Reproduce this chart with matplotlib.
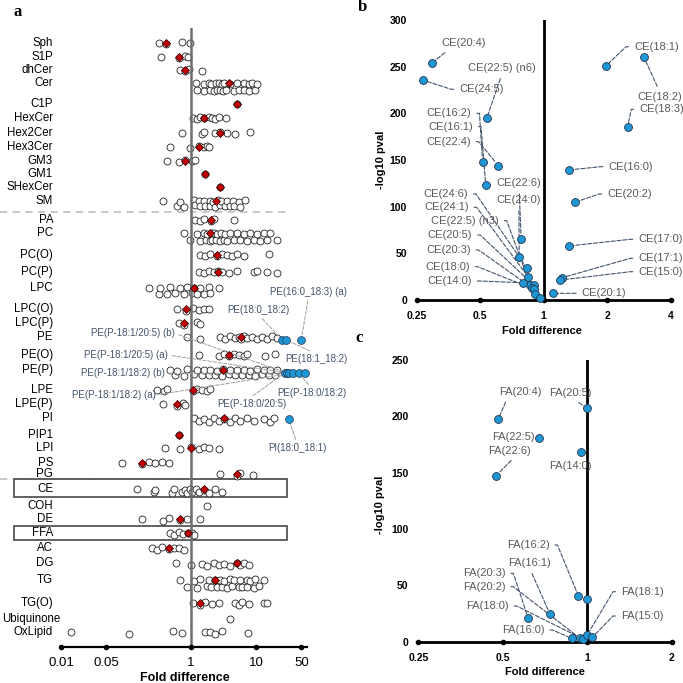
import matplotlib
matplotlib.use('Agg')
import matplotlib.pyplot as plt
from matplotlib.transforms import blended_transform_factory
from matplotlib.patches import Rectangle
from matplotlib.ticker import NullLocator

plt.rcParams['font.family'] = ['Liberation Sans', 'DejaVu Sans']

# Data ----------------------------------------------------------------------------------------------------------------
classes = ['Sph', 'S1P', 'dhCer', 'Cer', 'C1P', 'HexCer', 'Hex2Cer', 'Hex3Cer', 'GM3', 'GM1', 'SHexCer', 'SM',
           'PA', 'PC', 'PC(O)', 'PC(P)', 'LPC', 'LPC(O)', 'LPC(P)', 'PE', 'PE(O)', 'PE(P)', 'LPE', 'LPE(P)', 'PI',
           'PIP1', 'LPI', 'PS', 'PG', 'CE', 'COH', 'DE', 'FFA', 'AC', 'DG', 'TG', 'TG(O)', 'Ubiquinone', 'OxLipid']

# fold difference of every lipid species, per class (white circles)
sph = [0.317, 0.41, 0.727, 0.975]
s1p = [0.346, 0.66, 0.797, 0.886]
dhcer = [0.685, 0.82, 0.918, 1.48]
cer = [1.21, 1.24, 1.56, 1.56, 1.87, 1.93, 2.0, 2.23, 2.45, 2.51, 2.7, 2.82, 3.0, 3.1, 3.25, 3.5, 4.03, 4.52,
       5.09, 5.39, 6.45, 6.45, 7.7, 7.7, 8.69, 9.74, 10.3]
c1p = [5.1]
hexcer = [1.07, 1.24, 1.39, 1.6, 1.87, 2.1, 2.37, 2.66, 3.49]
hex2cer = [0.727, 1.48, 1.6, 2.37, 2.82, 3.58, 4.8, 8.17]
hex3cer = [0.481, 0.976, 1.34, 1.56, 1.76, 1.91]
gm3 = [0.427, 0.66, 0.797, 1.04, 1.16]
gm1 = [1.66]
shexcer = [2.82]
sm = [0.371, 0.61, 0.685, 0.77, 1.1, 1.16, 1.31, 1.39, 1.6, 1.66, 1.93, 1.98, 2.2, 2.37, 2.6, 2.82, 2.9, 3.37,
      3.58, 4.02, 4.4, 4.6, 5.39, 5.73, 6.84]
pa = [1.16, 1.36, 1.6, 2.03, 2.23, 4.52]
pc = [0.77, 0.976, 1.24, 1.39, 1.56, 1.7, 1.76, 1.98, 2.0, 2.1, 2.23, 2.4, 2.51, 2.82, 2.9, 3.17, 3.3, 3.58, 4.02,
      4.52, 5.09, 5.73, 6.45, 7.25, 8.17, 9.2, 10.3, 11.6, 13.1, 14.7, 16.6, 21.0]
pc_o = [1.39, 1.66, 1.98, 2.51, 3.0, 3.58, 4.27, 5.09, 6.45, 15.6]
pc_p = [1.31, 1.56, 1.87, 2.23, 2.58, 3.0, 3.79, 5.09, 9.2, 10.3, 14.7, 21.0]
lpc = [0.222, 0.317, 0.337, 0.427, 0.481, 0.573, 0.685, 0.77, 0.87, 1.04, 1.1, 1.24, 1.39, 1.56, 1.87, 1.98, 2.66]
lpc_o = [0.61, 0.84, 1.07, 1.31, 1.56, 1.87]
lpc_p = [0.645, 0.77, 1.24, 1.39]
pe = [0.87, 1.39, 2.82, 3.37, 4.02, 4.8, 5.4, 5.87, 6.5, 7.25, 8.69, 10.3, 12.3, 14.7, 17.6, 21.0]
pe_o = [1.31, 2.66, 3.17, 3.79, 4.52, 5.39, 6.45, 7.25, 13.9, 19.8]
pe_p = [0.481, 0.573, 0.61, 0.77, 0.87, 1.1, 1.24, 1.48, 1.56, 1.87, 1.98, 2.37, 2.51, 3.0, 3.1, 3.79, 4.02, 4.8,
        5.09, 6.09, 6.45, 7.7, 8.17, 9.75, 10.3, 12.3, 13.1, 15.6, 16.6, 19.8, 21.0]
lpe = [0.30, 0.38, 0.427, 1.07, 1.24, 1.48, 1.76, 1.98]
lpe_p = [0.371, 0.61, 0.753, 0.817]
pi = [1.1, 1.31, 1.56, 1.87, 2.23, 2.66, 3.25, 4.02, 4.8, 5.73, 7.25, 9.2, 13.1, 16.6, 18.7]
pip1 = [0.645]
lpi = [0.403, 0.685, 1.0, 1.31, 1.56, 1.87, 2.66]
ps = [0.087, 0.176, 0.222, 0.282, 0.358, 0.452]
pg = [2.82, 5.09, 5.73, 8.97]
ce = [0.148, 0.266, 0.28, 0.51, 0.55, 0.727, 0.8, 0.87, 0.95, 1.04, 1.2, 1.31, 1.6, 1.87, 2.37, 3.0]
coh = [1.76]
de = [0.176, 0.371, 0.452, 0.685, 0.87, 1.36]
ffa = [0.469, 0.54, 0.645, 0.753, 0.886, 1.04, 1.1]
ac = [0.251, 0.30, 0.358, 0.452, 0.54, 0.645, 0.77]
dg = [0.594, 1.0, 1.48, 1.76, 2.23, 2.66, 3.17, 4.02, 5.09, 5.73, 6.45, 7.7]
tg = [0.685, 0.87, 1.1, 1.24, 1.39, 1.76, 1.87, 2.0, 2.37, 2.51, 2.82, 3.0, 3.17, 3.58, 4.0, 4.27, 4.52, 5.39,
      5.73, 6.0, 7.25, 7.25, 8.0, 9.2, 9.75, 11.0, 13.1]
tg_o = [1.07, 1.39, 1.66, 2.1, 2.66, 4.8, 5.39, 6.09, 7.7, 13.1, 14.7]
ubiquinone = [3.92]
oxlipid = [0.0142, 0.11, 0.527, 0.727, 1.66, 1.98, 2.37, 3.0, 7.43]

circle_values = [sph, s1p, dhcer, cer, c1p, hexcer, hex2cer, hex3cer, gm3, gm1, shexcer, sm, pa, pc, pc_o, pc_p,
                 lpc, lpc_o, lpc_p, pe, pe_o, pe_p, lpe, lpe_p, pi, pip1, lpi, ps, pg, ce, coh, de, ffa, ac, dg,
                 tg, tg_o, ubiquinone, oxlipid]

# class medians (red diamonds), None where no diamond is shown
class_median = [0.412, 0.645, 0.817, 3.79, 5.1, 1.6, 2.82, 1.34, 0.797, 1.66, 2.82, 2.43, 2.03, 1.98, 2.51, 2.58,
                1.1, 0.84, 0.77, 5.87, 3.79, 3.1, 1.07, 0.61, 3.25, 0.645, 1.0, 0.176, 5.09, 1.6, None, 0.685,
                0.886, 0.452, 5.09, 2.37, 1.39, None, None]

# highlighted species (blue) in panel a
pe_hl_names = ['PE(18:0_18:2)', 'PE(18:1_18:2)', 'PE(16:0_18:3) (a)']
pe_hl_fold = [25.1, 28.9, 49.8]
pep_hl_names = ['PE(P-18:0/20:5)', 'PE(P-18:1/20:5) (b)', 'PE(P-18:1/20:5) (a)', 'PE(P-18:1/18:2) (a)',
                'PE(P-18:0/18:2)', 'PE(P-18:1/18:2) (b)']
pep_hl_fold = [27.5, 30.0, 31.7, 37.1, 45.2, 56.0]
pi_hl_names = ['PI(18:0_18:1)']
pi_hl_fold = [31.7]

# panel b: cholesteryl esters
ce_names = ['CE(20:4)', 'CE(24:5)', 'CE(22:5) (n6)', 'CE(16:2)', 'CE(16:1)', 'CE(22:4)', 'CE(22:6)', 'CE(24:0)',
            'CE(24:6)', 'CE(24:1)', 'CE(22:5) (n3)', 'CE(20:5)', 'CE(20:3)', 'CE(18:0)', 'CE(14:0)', 'CE(18:1)',
            'CE(18:2)', 'CE(18:3)', 'CE(16:0)', 'CE(20:2)', 'CE(17:0)', 'CE(17:1)', 'CE(15:0)', 'CE(20:1)', '', '']
ce_fold = [0.295, 0.267, 0.537, 0.513, 0.531, 0.61, 0.782, 0.765, 0.833, 0.842, 0.864, 0.896, 0.88, 0.903, 0.797,
           1.97, 2.98, 2.5, 1.317, 1.4, 1.317, 1.224, 1.2, 1.109, 0.913, 0.957]
ce_logp = [254, 235.7, 194.7, 148.2, 123.2, 143.9, 65.4, 45.7, 34, 25, 16, 16, 13, 11.4, 18.5,
           250.7, 260.7, 185.7, 139.3, 104.6, 57.9, 23.9, 21.4, 7.1, 6.4, 2.5]

# panel c: free fatty acids
fa_names = ['FA(20:4)', 'FA(20:5)', 'FA(22:5)', 'FA(14:0)', 'FA(22:6)', 'FA(16:2)', '', 'FA(16:1)', 'FA(20:3)',
            'FA(20:2)', 'FA(18:0)', 'FA(16:0)', 'FA(18:1)', 'FA(15:0)']
fa_fold = [0.482, 1.0, 0.673, 0.95, 0.473, 0.93, 1.0, 0.737, 0.616, 0.943, 0.965, 0.88, 1.0, 1.043]
fa_logp = [197.4, 207.1, 181, 168.6, 147.3, 40.6, 37.6, 24.3, 20.8, 3, 2.5, 3, 6, 3.9]
# ---------------------------------------------------------------------------------------------------------------------

# Layout (figure pixels, origin top-left) -----------------------------------------------------------------------------
W = H = 683
row_y = [42.7, 56.7, 70, 83.3, 104.3, 117.7, 132.7, 146.7, 160.7, 174.3, 187.3, 201, 220, 233.3, 255, 271.7, 287.7,
         309.3, 323.3, 336.7, 355, 370, 390, 404.3, 418.3, 435, 448, 462.7, 474.3, 489.3, 506, 519.3, 533.3, 548.3,
         563.3, 580, 603.3, 619, 632.3]
sub_gap = {'Cer': 7, 'SM': 5, 'PC': 7, 'LPC': 6, 'PE(P)': 5, 'TG': 7, 'CE': 3, 'PE': 2, 'PI': 3, 'DG': 2}
jit = [0, 1.2, -1.2, 0.6, -0.6]

BLUE = '#1f97d4'
NAVY = '#44546A'
GREY_TXT = '#5a5a5a'


def fx(x):
    return x / W


def fy(y):
    return 1 - y / H


fig = plt.figure(figsize=(6.83, 6.83), dpi=100)

# Panel a -------------------------------------------------------------------------------------------------------------
ax = fig.add_axes([fx(61), fy(647), (306.6 - 61) / W, (647 - 28) / H])
ax.set_xscale('log')
ax.set_xlim(0.01, 60)
ax.set_ylim(647, 28)

for k, (name, vals) in enumerate(zip(classes, circle_values)):
    vals = sorted(vals)
    gap = sub_gap.get(name, 0)
    ys = []
    for i in range(len(vals)):
        if gap:
            ys.append(row_y[k] + gap * (i % 2) + 0.5 * jit[(i // 2) % len(jit)])
        else:
            ys.append(row_y[k] + jit[i % len(jit)])
    ax.scatter(vals, ys, s=25, facecolor='white', edgecolor='#222222', linewidth=0.6, zorder=2, clip_on=False)

med_x = [m for m in class_median if m is not None]
med_y = [row_y[k] for k, m in enumerate(class_median) if m is not None]
ax.scatter(med_x, med_y, s=17, marker='D', facecolor='#c00000', edgecolor='#3a0000', linewidth=0.5, zorder=4)

ax.axvline(1, color='#6e6e6e', lw=1.8, zorder=3)

pe_row = row_y[classes.index('PE')] + 3
pep_row = row_y[classes.index('PE(P)')] + 3
pi_row = row_y[classes.index('PI')] + 1
for hl_fold, hl_row in [(pe_hl_fold, pe_row), (pep_hl_fold, pep_row), (pi_hl_fold, pi_row)]:
    ax.scatter(hl_fold, [hl_row] * len(hl_fold), s=32, facecolor=BLUE, edgecolor='#1f3550', lw=0.5, zorder=5,
               clip_on=False)

# label text positions (left x, centre y) and line start on the text box
a_labels = [
    ('PE(18:0_18:2)', pe_hl_fold[0], pe_row, 227.7, 310, (0.5, 0)),
    ('PE(18:1_18:2)', pe_hl_fold[1], pe_row, 285.7, 359.3, (0.5, 1)),
    ('PE(16:0_18:3) (a)', pe_hl_fold[2], pe_row, 270, 291.7, (0.5, 0)),
    ('PE(P-18:0/20:5)', pep_hl_fold[0], pep_row, 217, 404.3, (0.45, 1)),
    ('PE(P-18:1/20:5) (b)', pep_hl_fold[1], pep_row, 90.7, 333.3, (1, 0.5)),
    ('PE(P-18:1/20:5) (a)', pep_hl_fold[2], pep_row, 84, 355, (1, 0.5)),
    ('PE(P-18:1/18:2) (a)', pep_hl_fold[3], pep_row, 71.7, 395, (1, 0.5)),
    ('PE(P-18:0/18:2)', pep_hl_fold[4], pep_row, 277, 393.3, (0.5, 1)),
    ('PE(P-18:1/18:2) (b)', pep_hl_fold[5], pep_row, 80.7, 373.3, (1, 0.5)),
    ('PI(18:0_18:1)', pi_hl_fold[0], pi_row, 268, 448.3, (0.5, 1)),
]
for txt, xv, yv, tx, ty, rp in a_labels:
    ax.annotate(txt, xy=(xv, yv), xycoords='data', xytext=(tx, H - ty), textcoords='figure pixels',
                ha='left', va='center', fontsize=7, color=NAVY, annotation_clip=False,
                arrowprops=dict(arrowstyle='-', linestyle='--', color='#a0a0a0', lw=0.7, relpos=rp,
                                shrinkA=1, shrinkB=3))

trans = blended_transform_factory(ax.transAxes, ax.transData)
x0 = (0 - 61) / (306.6 - 61)
x1 = (287 - 61) / (306.6 - 61)
xb = (14 - 61) / (306.6 - 61)
for yl in [212.3, 479]:
    ax.plot([x0, x1], [yl, yl], transform=trans, color='#c4c4c4', lw=1.3, ls=(0, (4, 3)), clip_on=False, zorder=1)
ax.add_patch(Rectangle((xb, 479.3), x1 - xb, 18, transform=trans, fill=False, ec='#555555', lw=1.3,
                       clip_on=False, zorder=1))
ax.add_patch(Rectangle((xb, 526), x1 - xb, 14, transform=trans, fill=False, ec='#555555', lw=1.3,
                       clip_on=False, zorder=1))

for s in ['left', 'top', 'right']:
    ax.spines[s].set_visible(False)
ax.spines['bottom'].set_linewidth(1.6)
a_ticks = [0.01, 0.05, 1, 10, 50]
ax.set_xticks(a_ticks)
ax.set_xticklabels(['0.01', '0.05', '1', '10', '50'])
ax.xaxis.set_minor_locator(NullLocator())
ax.tick_params(axis='x', length=0, pad=7, labelsize=9.5)
ax.plot(a_ticks, [647] * len(a_ticks), 'o', ms=3, color='k', clip_on=False, zorder=6)
ax.set_yticks([])
for name, yv in zip(classes, row_y):
    if name == 'Ubiquinone':
        fig.text(fx(2), fy(yv), name, ha='left', va='center', fontsize=8.3)
    else:
        fig.text(fx(53), fy(yv), name, ha='right', va='center', fontsize=8.3)
fig.text(fx(185), fy(678), 'Fold difference', ha='center', va='center', fontsize=9, fontweight='bold')


def volcano(axv, xmax, ymax, yticks):
    axv.set_xscale('log', base=2)
    axv.set_xlim(0.25, xmax)
    axv.set_ylim(0, ymax)
    for s in ['left', 'top', 'right']:
        axv.spines[s].set_visible(False)
    axv.spines['bottom'].set_linewidth(2)
    axv.axvline(1, color='k', lw=2, zorder=1)
    xt = [0.25, 0.5, 1, 2, 4]
    xt = [t for t in xt if t <= xmax]
    axv.set_xticks(xt)
    axv.set_xticklabels([('%g' % t) for t in xt], fontweight='bold', fontsize=7.5)
    axv.xaxis.set_minor_locator(NullLocator())
    axv.set_yticks(yticks)
    axv.set_yticklabels([str(t) for t in yticks], fontweight='bold', fontsize=7.5)
    axv.tick_params(axis='both', length=0)
    axv.tick_params(axis='x', pad=8)
    axv.tick_params(axis='y', pad=7)
    axv.plot(xt, [0] * len(xt), 'o', ms=3, color='k', clip_on=False, zorder=3)


def label_props(rp):
    # short horizontal arm from the text, then a straight run to the point
    style = 'arc3'
    if rp == (1, 0.5):
        style = 'arc,angleA=0,armA=8,angleB=0,armB=0,rad=0'
    elif rp == (0, 0.5):
        style = 'arc,angleA=180,armA=8,angleB=0,armB=0,rad=0'
    return dict(arrowstyle='-', linestyle='--', color=NAVY, lw=0.8, relpos=rp, shrinkA=2, shrinkB=3,
                connectionstyle=style)


# Panel b -------------------------------------------------------------------------------------------------------------
axb = fig.add_axes([fx(416.7), fy(300), 254 / W, 280 / H])
volcano(axb, 4, 300, [0, 50, 100, 150, 200, 250, 300])
axb.scatter(ce_fold, ce_logp, s=32, facecolor=BLUE, edgecolor='#1f3550', lw=0.6, zorder=4, clip_on=False)

b_text = [
    (441.7, 43.3, (0.2, 0)), (459.3, 89.3, (0, 0.5)), (468.3, 68.3, (0.5, 0)), (426.7, 113.3, (1, 0.5)),
    (428.3, 126.7, (1, 0.5)), (426, 141.7, (1, 0.5)), (496.7, 183.3, (0.5, 0)), (496.7, 200, (0.5, 0)),
    (423.3, 194, (1, 0.5)), (424, 207.3, (1, 0.5)), (431, 220.7, (1, 0.5)), (427.7, 235, (1, 0.5)),
    (426, 250, (1, 0.5)), (425, 266.7, (1, 0.5)), (427.3, 281, (1, 0.5)), (634, 46.7, (0, 0.5)),
    (637.3, 96.7, (0.5, 1)), (639.3, 109.3, (0, 0.5)), (608.3, 166.7, (0, 0.5)), (607.3, 194, (0, 0.5)),
    (638.3, 239.3, (0, 0.5)), (638.3, 258.3, (0, 0.5)), (638.3, 271.7, (0, 0.5)), (581.7, 293.3, (0, 0.5)),
]
for (tx, ty, rp), name, xv, yv in zip(b_text, ce_names, ce_fold, ce_logp):
    axb.annotate(name, xy=(xv, yv), xytext=(tx, H - ty), textcoords='figure pixels', ha='left', va='center',
                 fontsize=8, color=GREY_TXT, annotation_clip=False, arrowprops=label_props(rp))
fig.text(fx(381), fy(160), '-log10 pval', rotation=90, ha='center', va='center', fontsize=8, fontweight='bold')
fig.text(fx(541.7), fy(330.7), 'Fold difference', ha='center', va='center', fontsize=8, fontweight='bold')

# Panel c -------------------------------------------------------------------------------------------------------------
axc = fig.add_axes([fx(418.3), fy(641.7), 253.4 / W, 281.7 / H])
volcano(axc, 2, 250, [0, 50, 100, 150, 200, 250])
axc.scatter(fa_fold, fa_logp, s=32, facecolor=BLUE, edgecolor='#1f3550', lw=0.6, zorder=4, clip_on=False)

c_text = [
    (499.3, 391.7, (0.2, 0)), (549, 393.3, (0.55, 0)), (491.7, 436.7, None), (549, 466, None),
    (487.7, 450.7, (0.66, 0)), (506.7, 545, (1, 0.5)), None, (508.3, 563.3, (0.5, 0)),
    (462.7, 573.3, (1, 0.5)), (462.7, 586.7, (1, 0.5)), (466, 606, (1, 0.5)), (501.7, 630, (1, 0.5)),
    (621, 591.7, (0, 0.5)), (621, 616, (0, 0.5)),
]
for pos, name, xv, yv in zip(c_text, fa_names, fa_fold, fa_logp):
    if pos is None:
        continue
    tx, ty, rp = pos
    props = label_props(rp) if rp is not None else None
    axc.annotate(name, xy=(xv, yv), xytext=(tx, H - ty), textcoords='figure pixels', ha='left', va='center',
                 fontsize=8, color=GREY_TXT, annotation_clip=False, arrowprops=props)
fig.text(fx(380), fy(505), '-log10 pval', rotation=90, ha='center', va='center', fontsize=8, fontweight='bold')
fig.text(fx(545), fy(671.7), 'Fold difference', ha='center', va='center', fontsize=8, fontweight='bold')

# Panel letters -------------------------------------------------------------------------------------------------------
for letter, lx, ly in [('a', 13, 12), ('b', 358, 7), ('c', 355, 338)]:
    fig.text(fx(lx), fy(ly), letter, ha='left', va='center', fontsize=12, fontweight='bold',
             family='Liberation Serif')

fig.savefig('out.png', dpi=100)
